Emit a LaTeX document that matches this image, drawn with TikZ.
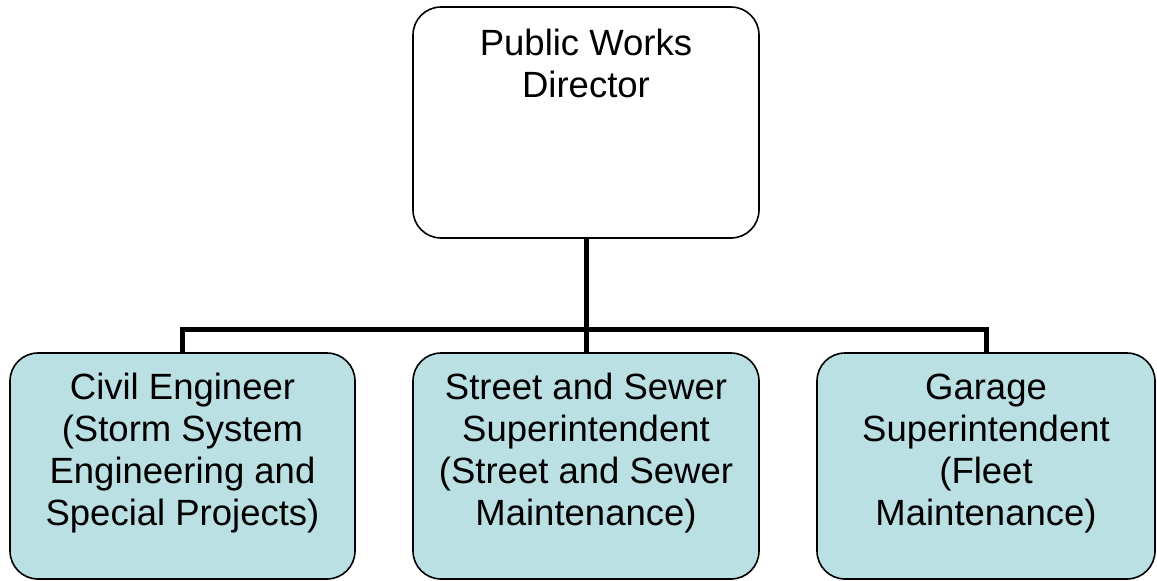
\documentclass[tikz,border=0pt]{standalone}
\usepackage{fontspec}
\setmainfont{Liberation Sans}
\definecolor{paleteal}{RGB}{187,224,227}
\newcommand{\boxtext}[1]{\begin{tabular}[t]{@{}c@{}}#1\end{tabular}}
\begin{document}
\begin{tikzpicture}[x=1pt,y=-1pt]
  \useasboundingbox (0,0) rectangle (1157,581);
  \begin{scope}[every node/.style={draw=black, line width=1.6pt, rounded corners=28pt, inner sep=0pt}]
    \node[fill=white, minimum width=346pt, minimum height=231pt] (director) at (586,122.5) {};
    \node[fill=paleteal, minimum width=345pt, minimum height=226pt] (civil) at (182.5,466) {};
    \node[fill=paleteal, minimum width=346pt, minimum height=226pt] (street) at (586,466) {};
    \node[fill=paleteal, minimum width=338pt, minimum height=226pt] (garage) at (986,466) {};
  \end{scope}
  \begin{scope}[every node/.style={anchor=base, inner sep=0pt, font=\fontsize{36.5}{42}\selectfont}]
    \node (directortext) at ([yshift=-49pt]director.north) {\boxtext{Public Works\\Director}};
    \node (civiltext) at ([yshift=-47pt]civil.north) {\boxtext{Civil Engineer\\(Storm System\\Engineering and\\Special Projects)}};
    \node (streettext) at ([yshift=-47pt]street.north) {\boxtext{Street and Sewer\\Superintendent\\(Street and Sewer\\Maintenance)}};
    \node (garagetext) at ([yshift=-47pt]garage.north) {\boxtext{Garage\\Superintendent\\(Fleet\\Maintenance)}};
  \end{scope}
  \coordinate (bus) at (586,329);
  \begin{scope}[line width=5pt, line join=miter]
    \draw (director.south) -- (bus);
    \draw (civil.north) |- (bus) -| (garage.north);
    \draw (bus) -- (street.north);
  \end{scope}
\end{tikzpicture}
\end{document}
